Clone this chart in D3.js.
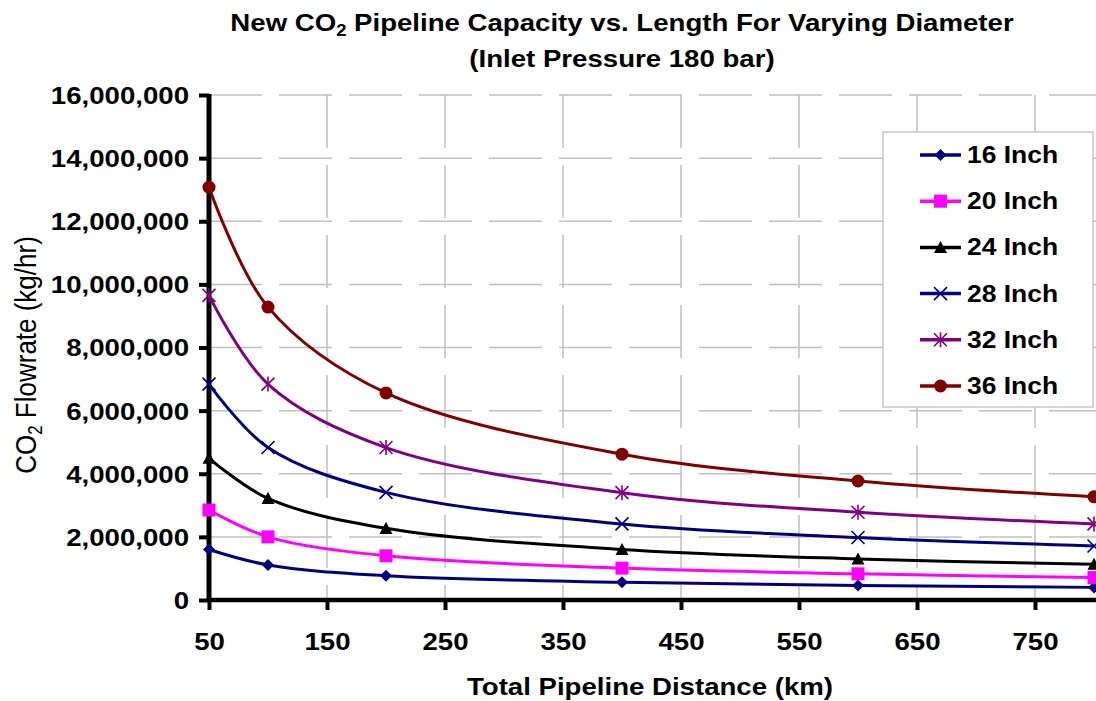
<!DOCTYPE html>
<html>
<head>
<meta charset="utf-8">
<script src="https://cdn.jsdelivr.net/npm/d3@7"></script>
<style>
  html, body { margin: 0; padding: 0; background: #fff; }
  svg { display: block; }
  text { font-family: "Liberation Sans", Arial, sans-serif; fill: #000; }
</style>
</head>
<body>
<svg id="chart" width="1096" height="701"></svg>
<script>
// Pipeline distances (km) at which capacity was computed
const distances = [50, 100, 200, 400, 600, 800];

// CO2 flowrate (kg/hr) per pipe diameter
const flow16 = [1600000, 1110000, 770000, 560000, 460000, 400000];
const flow20 = [2850000, 2000000, 1400000, 1010000, 830000, 710000];
const flow24 = [4490000, 3220000, 2270000, 1600000, 1300000, 1130000];
const flow28 = [6840000, 4830000, 3410000, 2410000, 1980000, 1710000];
const flow32 = [9650000, 6840000, 4830000, 3400000, 2780000, 2410000];
const flow36 = [13080000, 9280000, 6560000, 4620000, 3770000, 3270000];

const seriesNames = ["16 Inch", "20 Inch", "24 Inch", "28 Inch", "32 Inch", "36 Inch"];
const seriesValues = [flow16, flow20, flow24, flow28, flow32, flow36];

const xTicks = [50, 150, 250, 350, 450, 550, 650, 750];
const yTicks = [0, 2000000, 4000000, 6000000, 8000000, 10000000, 12000000, 14000000, 16000000];

const seriesStyle = [
  { color: "#000080", marker: "diamond" },
  { color: "#ff00ff", marker: "square" },
  { color: "#000000", marker: "triangle" },
  { color: "#000080", marker: "x" },
  { color: "#800080", marker: "asterisk" },
  { color: "#800000", marker: "circle" }
];

const svg = d3.select("#chart");
const plot = { left: 209, right: 1094, top: 95, bottom: 600 };
const SX = 1.15; // horizontal widening applied to all upright text

const x = d3.scaleLinear().domain([50, 800]).range([plot.left, plot.right]);
const y = d3.scaleLinear().domain([0, 16000000]).range([plot.bottom, plot.top]);

function widen(sel, k = SX) {
  sel.each(function () {
    const L = this.getComputedTextLength();
    this.setAttribute("textLength", L * k);
    this.setAttribute("lengthAdjust", "spacingAndGlyphs");
  });
}

// Gridlines
const grid = svg.append("g").attr("class", "grid");
grid.selectAll("line.h")
  .data(yTicks.filter(d => d > 0))
  .join("line")
  .attr("x1", plot.left).attr("x2", 1096)
  .attr("y1", d => y(d)).attr("y2", d => y(d))
  .attr("stroke", "#c0c0c0").attr("stroke-width", 1.5)
  .attr("stroke-dasharray", "53 17");
grid.selectAll("line.v")
  .data(xTicks.filter(d => d > 50))
  .join("line")
  .attr("x1", d => x(d)).attr("x2", d => x(d))
  .attr("y1", plot.top).attr("y2", plot.bottom)
  .attr("stroke", "#c0c0c0").attr("stroke-width", 1.5)
  .attr("stroke-dasharray", "53 17");

// Axes
const fmt = d3.format(",");
const yAxis = svg.append("g")
  .attr("transform", `translate(${plot.left},0)`)
  .call(d3.axisLeft(y).tickValues(yTicks).tickFormat(fmt).tickSize(10).tickPadding(10));
yAxis.select(".domain").attr("stroke", "#000").attr("stroke-width", 5)
  .attr("d", `M0,${plot.top - 1}V${plot.bottom + 2}`);
yAxis.selectAll(".tick line").attr("stroke", "#000").attr("stroke-width", 4);
yAxis.selectAll(".tick text")
  .attr("font-size", 24).attr("font-weight", "bold")
  .attr("font-family", "Liberation Sans, Arial, sans-serif")
  .attr("dy", "0.35em");
widen(yAxis.selectAll(".tick text"));

const xAxis = svg.append("g")
  .attr("transform", `translate(0,${plot.bottom})`)
  .call(d3.axisBottom(x).tickValues(xTicks).tickFormat(d3.format("d")).tickSize(10).tickPadding(23));
xAxis.select(".domain").attr("stroke", "#000").attr("stroke-width", 4.5)
  .attr("d", `M${plot.left - 2},0H1096`);
xAxis.selectAll(".tick line").attr("stroke", "#000").attr("stroke-width", 4);
xAxis.selectAll(".tick text")
  .attr("font-size", 24).attr("font-weight", "bold")
  .attr("font-family", "Liberation Sans, Arial, sans-serif");
widen(xAxis.selectAll(".tick text"));

// Marker shapes
function drawMarker(g, type, color, size) {
  const s = size / 2;
  if (type === "diamond") {
    g.append("path").attr("d", `M0,${-s}L${s},0L0,${s}L${-s},0Z`).attr("fill", color);
  } else if (type === "square") {
    g.append("rect").attr("x", -s).attr("y", -s).attr("width", size).attr("height", size).attr("fill", color);
  } else if (type === "triangle") {
    g.append("path").attr("d", `M0,${-s}L${s},${s * 0.85}L${-s},${s * 0.85}Z`).attr("fill", color);
  } else if (type === "x") {
    g.append("path").attr("d", `M${-s},${-s}L${s},${s}M${s},${-s}L${-s},${s}`)
      .attr("stroke", color).attr("stroke-width", 1.6).attr("fill", "none");
  } else if (type === "asterisk") {
    g.append("path").attr("d", `M${-s},${-s}L${s},${s}M${s},${-s}L${-s},${s}M0,${-s - 1}L0,${s + 1}`)
      .attr("stroke", color).attr("stroke-width", 1.6).attr("fill", "none");
  } else if (type === "circle") {
    g.append("circle").attr("r", s).attr("fill", color);
  }
}
const markerSize = { diamond: 12, square: 13, triangle: 13, x: 13, asterisk: 13, circle: 13 };

// Series curves and markers
const line = d3.line()
  .x(d => x(d[0]))
  .y(d => y(d[1]))
  .curve(d3.curveCatmullRom.alpha(0.5));

seriesValues.forEach((vals, i) => {
  const st = seriesStyle[i];
  const pts = distances.map((d, j) => [d, vals[j]]);
  const g = svg.append("g");
  g.append("path").datum(pts).attr("d", line)
    .attr("fill", "none").attr("stroke", st.color).attr("stroke-width", 3);
  pts.forEach(p => {
    const mg = g.append("g").attr("transform", `translate(${x(p[0])},${y(p[1])})`);
    drawMarker(mg, st.marker, st.color, markerSize[st.marker]);
  });
});

// Legend
const legend = svg.append("g");
legend.append("rect")
  .attr("x", 883).attr("y", 132).attr("width", 210).attr("height", 275)
  .attr("fill", "#fff").attr("stroke", "#c8c8c8").attr("stroke-width", 1.5);
seriesNames.forEach((name, i) => {
  const cy = 155 + i * 46.2;
  const st = seriesStyle[i];
  legend.append("line").attr("x1", 920).attr("x2", 961).attr("y1", cy).attr("y2", cy)
    .attr("stroke", st.color).attr("stroke-width", 3.5);
  const mg = legend.append("g").attr("transform", `translate(940.5,${cy})`);
  drawMarker(mg, st.marker, st.color, markerSize[st.marker]);
  const t = legend.append("text").attr("x", 967).attr("y", cy).attr("dy", "0.35em")
    .attr("font-size", 23).attr("font-weight", "bold").text(name);
  widen(t);
});

// Title
const t1 = svg.append("text").attr("x", 622).attr("y", 31).attr("text-anchor", "middle")
  .attr("font-size", 24).attr("font-weight", "bold");
t1.append("tspan").text("New CO");
t1.append("tspan").attr("font-size", 16).attr("dy", 5).text("2");
t1.append("tspan").attr("dy", -5).text(" Pipeline Capacity vs. Length For Varying Diameter");
widen(t1);
const t2 = svg.append("text").attr("x", 622).attr("y", 67).attr("text-anchor", "middle")
  .attr("font-size", 24).attr("font-weight", "bold").text("(Inlet Pressure 180 bar)");
widen(t2);

// Axis titles
const xt = svg.append("text").attr("x", 650).attr("y", 695).attr("text-anchor", "middle")
  .attr("font-size", 24).attr("font-weight", "bold").text("Total Pipeline Distance (km)");
widen(xt);

const yt = svg.append("text")
  .attr("transform", `translate(36,355) scale(${SX},1) rotate(-90)`)
  .attr("text-anchor", "middle")
  .attr("font-size", 26);
yt.append("tspan").text("CO");
yt.append("tspan").attr("font-size", 17).attr("dy", 5).text("2");
yt.append("tspan").attr("dy", -5).text(" Flowrate (kg/hr)");
</script>
</body>
</html>
